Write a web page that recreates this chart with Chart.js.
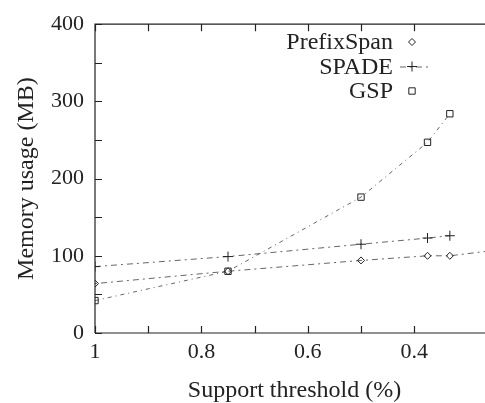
<!DOCTYPE html>
<html>
<head>
<meta charset="utf-8">
<script src="https://cdn.jsdelivr.net/npm/chart.js@4.4.1/dist/chart.umd.min.js"></script>
<style>
  html, body { margin: 0; padding: 0; overflow: hidden; background: #fff; }
  #wrap { position: relative; width: 500px; height: 403px; }
</style>
</head>
<body>
<div id="wrap"><canvas id="chart"></canvas></div>
<script>
// support threshold (%) per run
const thresholds = [1, 0.75, 0.5, 0.375, 0.333, 0.25];
const prefixSpanMB = [64, 80, 94, 100, 100, 107];
const spadeMB = [86, 99, 115, 123, 126];
const gspMB = [42, 80, 176, 247, 284];

const xLabels = [1, 0.8, 0.6, 0.4];
const FONT = '"Liberation Serif", "Times New Roman", "DejaVu Serif", serif';
const INK = '#222';

const pts = (ys) => ys.map((y, i) => ({ x: thresholds[i], y }));

// gnuplot style frame: box + ticks pointing inward
const framePlugin = {
  id: 'frame',
  afterDatasetsDraw(chart) {
    const { ctx, chartArea: a, scales: { x, y } } = chart;
    ctx.save();
    ctx.strokeStyle = INK;
    ctx.lineWidth = 1.2;
    ctx.beginPath();
    ctx.moveTo(a.left, a.bottom); ctx.lineTo(a.left, a.top); ctx.lineTo(a.right, a.top);
    ctx.moveTo(a.left, a.bottom); ctx.lineTo(a.right, a.bottom);
    const len = 7;
    x.ticks.forEach(t => {
      const px = Math.round(x.getPixelForValue(t.value)) + 0.5;
      ctx.moveTo(px, a.bottom); ctx.lineTo(px, a.bottom - len);
      ctx.moveTo(px, a.top); ctx.lineTo(px, a.top + len);
    });
    y.ticks.forEach(t => {
      const py = Math.round(y.getPixelForValue(t.value)) + 0.5;
      ctx.moveTo(a.left, py); ctx.lineTo(a.left + len, py);
      ctx.moveTo(a.right, py); ctx.lineTo(a.right - len, py);
    });
    ctx.stroke();
    ctx.restore();
  }
};

// legend top-right, text right-aligned with sample after it
const keyPlugin = {
  id: 'key',
  afterDraw(chart) {
    const { ctx } = chart;
    const textRight = 393, sx0 = 400, sx1 = 432, top = 42, step = 24.5;
    ctx.save();
    ctx.font = '24px ' + FONT;
    ctx.textAlign = 'right';
    ctx.textBaseline = 'middle';
    chart.data.datasets.forEach((ds, i) => {
      const yy = top + i * step;
      ctx.fillStyle = INK;
      ctx.fillText(ds.label, textRight, yy + 1);
      if (ds.keyLine) {
        ctx.strokeStyle = ds.borderColor;
        ctx.lineWidth = 1;
        ctx.setLineDash(ds.borderDash);
        ctx.beginPath();
        ctx.moveTo(sx0, yy + 0.5); ctx.lineTo(sx1, yy + 0.5);
        ctx.stroke();
        ctx.setLineDash([]);
      }
      ctx.fillStyle = 'rgba(0,0,0,0)';
      ctx.strokeStyle = INK;
      ctx.lineWidth = 1;
      Chart.helpers.drawPoint(ctx, {
        pointStyle: ds.pointStyle, radius: ds.pointRadius, borderWidth: 1
      }, 412, yy);
    });
    ctx.restore();
  }
};

new Chart(document.getElementById('chart'), {
  type: 'line',
  data: {
    datasets: [
      {
        label: 'PrefixSpan',
        data: pts(prefixSpanMB),
        borderColor: '#666',
        borderWidth: 1,
        borderDash: [2, 4, 6, 4],
        pointStyle: 'rectRot',
        pointRadius: 3.5,
        pointBorderColor: INK,
        pointBackgroundColor: 'rgba(0,0,0,0)',
        keyLine: false,
      },
      {
        label: 'SPADE',
        data: pts(spadeMB),
        borderColor: '#666',
        borderWidth: 1,
        borderDash: [6, 4, 2, 4],
        pointStyle: 'cross',
        pointRadius: 5,
        pointBorderColor: INK,
        keyLine: true,
      },
      {
        label: 'GSP',
        data: pts(gspMB),
        borderColor: '#666',
        borderWidth: 1,
        borderDash: [4, 4, 1, 4],
        pointStyle: 'rect',
        pointRadius: 4.5,
        pointBorderColor: INK,
        pointBackgroundColor: 'rgba(0,0,0,0)',
        keyLine: false,
      },
    ],
  },
  options: {
    responsive: true,
    maintainAspectRatio: false,
    animation: false,
    layout: { padding: { left: 12, top: 14, right: 5, bottom: 0 } },
    elements: { line: { tension: 0 }, point: { borderWidth: 1 } },
    plugins: { legend: { display: false }, tooltip: { enabled: false } },
    scales: {
      x: {
        type: 'linear',
        reverse: true,
        min: 0.25,
        max: 1,
        grid: { display: false, drawTicks: false },
        border: { display: false },
        ticks: {
          stepSize: 0.1,
          padding: 6,
          color: INK,
          font: { family: FONT, size: 22 },
          autoSkip: false,
          maxRotation: 0,
          callback: (v) => {
            const hit = xLabels.find(l => Math.abs(l - v) < 1e-6);
            return hit === undefined ? '' : String(hit);
          },
        },
        title: {
          display: true,
          text: 'Support threshold (%)',
          color: INK,
          font: { family: FONT, size: 24 },
          padding: { top: 0, bottom: -2 },
        },
        afterFit: (s) => { s.height = 70; },
      },
      y: {
        min: 0,
        max: 400,
        grid: { display: false, drawTicks: false },
        border: { display: false },
        ticks: {
          stepSize: 50,
          padding: 11,
          color: INK,
          font: { family: FONT, size: 22 },
          callback: (v) => (v % 100 === 0 ? String(v) : ''),
        },
        title: {
          display: true,
          text: 'Memory usage (MB)',
          color: INK,
          font: { family: FONT, size: 24 },
          padding: { top: 0, bottom: 0 },
        },
        afterFit: (s) => { s.width = 83; },
      },
    },
  },
  plugins: [framePlugin, keyPlugin],
});
</script>
</body>
</html>
